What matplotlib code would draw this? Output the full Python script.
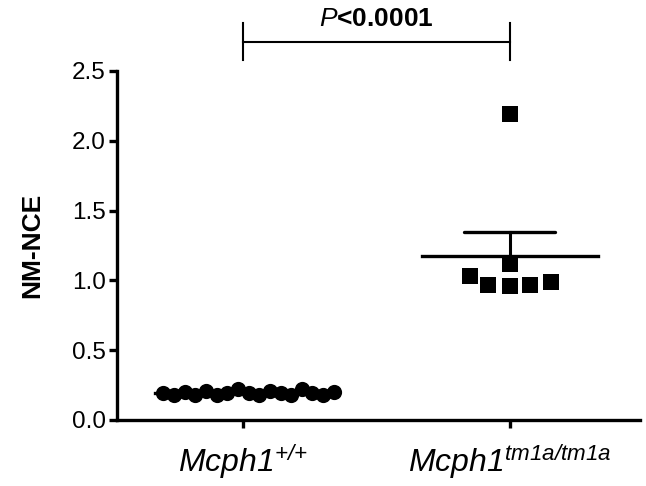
import matplotlib
matplotlib.use("Agg")
import matplotlib.pyplot as plt
import numpy as np

plt.rcParams["font.family"] = ["Liberation Sans", "DejaVu Sans"]
plt.rcParams["mathtext.fontset"] = "custom"
plt.rcParams["mathtext.rm"] = "Liberation Sans:italic"
plt.rcParams["mathtext.it"] = "Liberation Sans:italic"
plt.rcParams["mathtext.bf"] = "Liberation Sans:bold"

# group 1: Mcph1 +/+ (circles), group 2: tm1a/tm1a (squares)
wt_offsets = [-0.30, -0.26, -0.22, -0.18, -0.14, -0.10, -0.06, -0.02,
              0.02, 0.06, 0.10, 0.14, 0.18, 0.22, 0.26, 0.30, 0.34]
wt_values = [0.19, 0.18, 0.20, 0.18, 0.21, 0.18, 0.19, 0.22, 0.19,
             0.18, 0.21, 0.19, 0.18, 0.22, 0.19, 0.18, 0.20]
mut_offsets = [-0.15, -0.08, 0.0, 0.075, 0.155, 0.0, 0.0]
mut_values = [1.03, 0.97, 0.96, 0.97, 0.99, 1.12, 2.19]

tick_labels = [r"$Mcph1^{{+}/{+}}$", r"$Mcph1^{tm1a/tm1a}$"]
p_text = r"$P$" + "<0.0001"

fig = plt.figure(figsize=(6.46, 4.86), dpi=100)
ax = fig.add_axes([0.181, 0.136, 0.81, 0.718])

groups = [(1, wt_offsets, wt_values, "o"), (2, mut_offsets, mut_values, "s")]
for pos, offs, vals, mk in groups:
    vals = np.array(vals)
    ax.scatter(pos + np.array(offs), vals, marker=mk, s=120, color="black",
               zorder=3, linewidths=0)
    m = vals.mean()
    sem = vals.std(ddof=1) / np.sqrt(len(vals))
    ax.plot([pos - 0.33, pos + 0.33], [m, m], color="black", lw=2.4, zorder=4)
    ax.plot([pos, pos], [m, m + sem], color="black", lw=2.2, zorder=4)
    ax.plot([pos - 0.17, pos + 0.17], [m + sem, m + sem], color="black",
            lw=2.4, zorder=4, solid_capstyle="round")

ax.set_xlim(0.526, 2.49)
ax.set_ylim(0, 2.5)
ax.set_yticks([0.0, 0.5, 1.0, 1.5, 2.0, 2.5])
ax.set_yticklabels(["0.0", "0.5", "1.0", "1.5", "2.0", "2.5"], fontsize=17.5)
ax.set_xticks([1, 2])
ax.set_xticklabels(tick_labels, fontsize=23)
ax.set_ylabel("NM-NCE", fontsize=19, fontweight="bold", labelpad=20)

for side in ["top", "right"]:
    ax.spines[side].set_visible(False)
for side in ["left", "bottom"]:
    ax.spines[side].set_linewidth(2.4)
ax.tick_params(axis="both", width=2.4, length=6, color="black")
ax.tick_params(axis="y", pad=2)
ax.tick_params(axis="x", pad=10)

# significance bracket
yb = 2.71
ax.plot([1, 2], [yb, yb], color="black", lw=1.5, clip_on=False)
ax.plot([1, 1], [yb - 0.13, yb + 0.13], color="black", lw=1.5, clip_on=False)
ax.plot([2, 2], [yb - 0.13, yb + 0.13], color="black", lw=1.5, clip_on=False)
ax.text(1.5, 2.87, p_text, ha="center", va="center", fontsize=19,
        fontweight="bold", clip_on=False)

fig.savefig("out.png", dpi=100)
